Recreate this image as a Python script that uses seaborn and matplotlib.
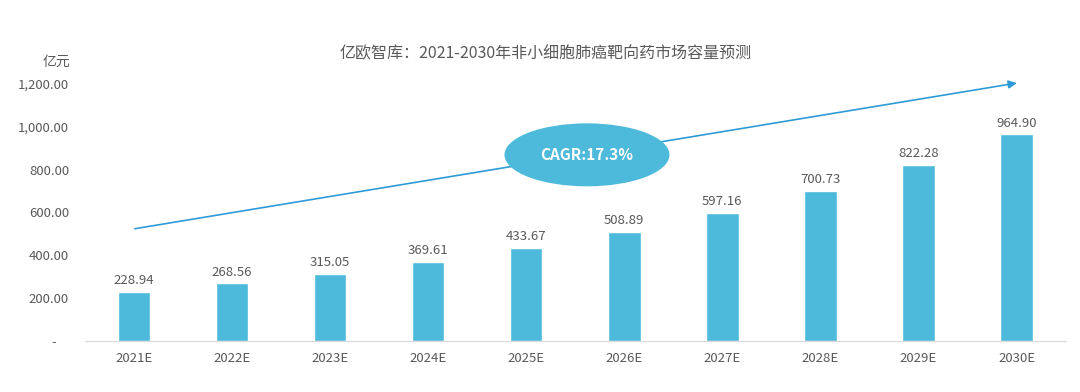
# 非小细胞肺癌靶向药市场容量预测 bar chart
import seaborn as sns
import matplotlib.pyplot as plt
import matplotlib.ticker as mticker
from matplotlib.patches import Ellipse
import pandas as pd

years = ["2021E", "2022E", "2023E", "2024E", "2025E", "2026E", "2027E", "2028E", "2029E", "2030E"]
market_size = [228.94, 268.56, 315.05, 369.61, 433.67, 508.89, 597.16, 700.73, 822.28, 964.90]
y_ticks = [0, 200, 400, 600, 800, 1000, 1200]
title = "亿欧智库：2021-2030年非小细胞肺癌靶向药市场容量预测"
unit = "亿元"
cagr_text = "CAGR:17.3%"

df = pd.DataFrame({"year": years, "size": market_size})

sns.set_style("white")
plt.rcParams['font.family'] = ['Noto Sans CJK SC', 'DejaVu Sans']

bar_color = "#4DBADB"
text_color = "#595959"

fig = plt.figure(figsize=(10.8, 3.92), dpi=100)
ax = fig.add_axes([0.0787, 0.130, 0.908, 0.656])
sns.barplot(data=df, x="year", y="size", color=bar_color, width=0.33, saturation=1, ax=ax)

ax.set_ylim(0, 1200)
ax.set_xlim(-0.5, 9.5)
ax.set_yticks(y_ticks)
ax.yaxis.set_major_formatter(mticker.FuncFormatter(lambda v, p: "-    " if v == 0 else f"{v:,.2f}"))
ax.tick_params(axis='y', length=0, pad=11.5, labelsize=9.5, labelcolor=text_color)
ax.tick_params(axis='x', length=0, pad=8, labelsize=9.5, labelcolor=text_color)
ax.set_xlabel("")
ax.set_ylabel("")
for s in ["top", "right", "left"]:
    ax.spines[s].set_visible(False)
ax.spines["bottom"].set_color("#D9D9D9")

# value labels
for i, v in enumerate(market_size):
    ax.text(i, v + 22, f"{v:.2f}", ha="center", va="bottom", fontsize=9.5, color=text_color)

# unit and title
fig.text(0.052, 0.842, unit, ha="center", va="center", fontsize=10, color=text_color)
fig.text(0.505, 0.862, title, ha="center", va="center", fontsize=11.5, color=text_color)

# CAGR arrow across the bars
ax.annotate("", xy=(0.953, 1.005), xytext=(0.048, 0.435),
            xycoords="axes fraction", textcoords="axes fraction",
            arrowprops=dict(arrowstyle="-|>", color="#2E9BD6", lw=1.2, mutation_scale=12))

ell = Ellipse((0.5435, 0.605), width=165 / 1080, height=63 / 392, transform=fig.transFigure,
              facecolor=bar_color, edgecolor="none", zorder=5)
fig.patches.append(ell)
fig.text(0.5435, 0.605, cagr_text, ha="center", va="center", fontsize=11, fontweight="bold",
         color="white", zorder=6)

fig.savefig("out.png", dpi=100)
